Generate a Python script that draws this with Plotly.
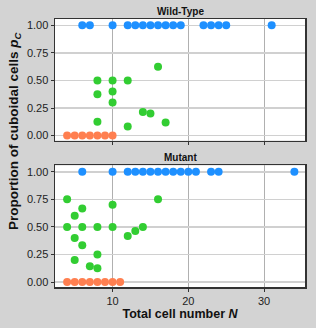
import plotly.graph_objects as go
from plotly.subplots import make_subplots

# Wild-Type data
wt_blue_x = [6, 7, 10, 12, 13, 14, 15, 16, 17, 18, 19, 22, 23, 24, 25, 31]
wt_blue_y = [1.0] * len(wt_blue_x)
wt_orange_x = [4, 5, 6, 7, 8, 9, 10]
wt_orange_y = [0.0] * len(wt_orange_x)
wt_green_x = [8, 8, 8, 10, 10, 10, 12, 12, 14, 15, 16, 17]
wt_green_y = [0.5, 0.375, 0.125, 0.5, 0.4, 0.3, 0.5, 0.083, 0.214, 0.2, 0.625, 0.118]

# Mutant data
mu_blue_x = [6, 10, 12, 13, 14, 15, 16, 17, 18, 19, 20, 21, 23, 24, 34]
mu_blue_y = [1.0] * len(mu_blue_x)
mu_orange_x = [4, 5, 6, 7, 8, 9, 10, 11]
mu_orange_y = [0.0] * len(mu_orange_x)
mu_green_x = [4, 4, 5, 5, 5, 6, 6, 6, 7, 8, 8, 8, 10, 10, 12, 13, 14, 16]
mu_green_y = [0.75, 0.5, 0.6, 0.4, 0.2, 0.667, 0.5, 0.333, 0.143, 0.5, 0.25, 0.125,
              0.7, 0.5, 0.417, 0.462, 0.5, 0.75]

BLUE = "#1E90FF"
GREEN = "#32CD32"
ORANGE = "#FF7F50"

fig = make_subplots(rows=2, cols=1, shared_xaxes=False, vertical_spacing=0.093,
                    subplot_titles=("<b>Wild-Type</b>", "<b>Mutant</b>"))

def add(x, y, c, row):
    fig.add_trace(go.Scatter(x=x, y=y, mode="markers",
                             marker=dict(color=c, size=8, line=dict(width=0)),
                             showlegend=False, cliponaxis=False), row=row, col=1)

add(wt_blue_x, wt_blue_y, BLUE, 1)
add(wt_orange_x, wt_orange_y, ORANGE, 1)
add(wt_green_x, wt_green_y, GREEN, 1)
add(mu_blue_x, mu_blue_y, BLUE, 2)
add(mu_orange_x, mu_orange_y, ORANGE, 2)
add(mu_green_x, mu_green_y, GREEN, 2)

xticks = [10, 20, 30]
yticks = [0, 0.25, 0.5, 0.75, 1.0]

for r in (1, 2):
    fig.update_xaxes(row=r, col=1, range=[2.4, 35.4], tickvals=xticks,
                     showticklabels=(r == 2), ticks="outside", ticklen=3,
                     tickcolor="#333", showgrid=True, gridcolor="#b0b0b0", gridwidth=1,
                     showline=True, linecolor="#333", linewidth=1.5, mirror=True,
                     zeroline=False, automargin=False,
                     tickfont=dict(size=11, color="#222"))
    fig.update_yaxes(row=r, col=1, range=[-0.045, 1.057], tickvals=yticks,
                     ticktext=["0.00", "0.25", "0.50", "0.75", "1.00"],
                     ticks="outside", ticklen=3, tickcolor="#333",
                     showgrid=True, gridcolor="#d0d0d0", gridwidth=1.5,
                     showline=True, linecolor="#333", linewidth=1.5, mirror=True,
                     zeroline=False, automargin=False,
                     tickfont=dict(size=11, color="#222"))

fig.update_xaxes(row=2, col=1,
                 title=dict(text="<b>Total cell number <i>N</i></b>",
                            font=dict(size=12.5, color="#111"), standoff=1))

fig.add_annotation(text="<b>Proportion of cuboidal cells <i>p</i><sub><i>C</i></sub></b>",
                   textangle=-90, xref="paper", yref="paper", x=-0.164, y=0.582,
                   showarrow=False, font=dict(size=13.5, color="#111"),
                   xanchor="center", yanchor="middle")

for a in fig.layout.annotations[:2]:
    a.font = dict(size=10, color="#111")

fig.update_layout(width=316, height=328,
                  margin=dict(l=55, r=11, t=19, b=41, autoexpand=False),
                  paper_bgcolor="#d3d3d3", plot_bgcolor="white",
                  hovermode=False,
                  font=dict(family="Liberation Sans, Arial, sans-serif"))

fig.write_html("out.html",
               config={"displayModeBar": False, "staticPlot": True},
               post_script="document.body.style.margin='0';"
                           "document.body.style.background='#d3d3d3';"
                           "document.body.style.overflow='hidden';")
